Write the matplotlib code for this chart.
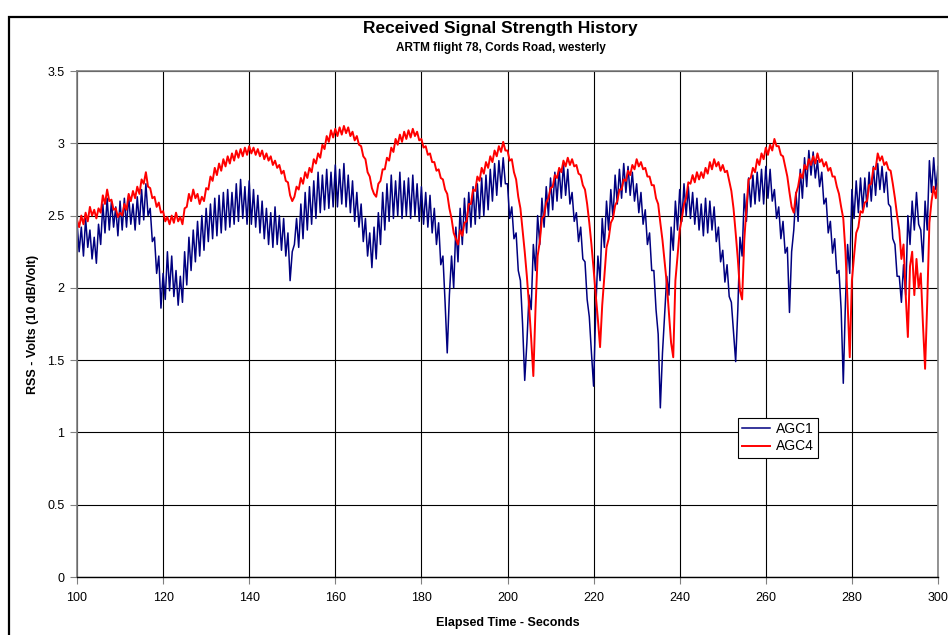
import numpy as np
import matplotlib.pyplot as plt
from matplotlib.patches import Rectangle

plt.rcParams['font.family'] = ['Liberation Sans', 'DejaVu Sans']

# sample times, half a second apart
t_start = 100.0
t_step = 0.5

# AGC1 received signal (volts), every 0.5 s
agc1 = [
    2.45, 2.25, 2.42, 2.22, 2.48, 2.28, 2.40, 2.20, 2.35, 2.17, 2.44, 2.30, 2.58, 2.38, 2.62, 2.40, 2.60, 2.42, 2.56, 2.36,
    2.60, 2.40, 2.62, 2.42, 2.64, 2.44, 2.58, 2.40, 2.63, 2.44, 2.68, 2.47, 2.72, 2.50, 2.55, 2.32, 2.35, 2.10, 2.22, 1.86,
    2.10, 1.92, 2.25, 1.98, 2.22, 1.94, 2.12, 1.88, 2.08, 1.90, 2.25, 2.02, 2.35, 2.12, 2.40, 2.18, 2.46, 2.22, 2.50, 2.26,
    2.55, 2.32, 2.58, 2.34, 2.62, 2.36, 2.64, 2.38, 2.66, 2.40, 2.68, 2.42, 2.66, 2.44, 2.72, 2.46, 2.75, 2.48, 2.70, 2.44,
    2.74, 2.44, 2.68, 2.42, 2.64, 2.38, 2.60, 2.34, 2.55, 2.30, 2.52, 2.28, 2.56, 2.30, 2.50, 2.26, 2.48, 2.22, 2.38, 2.05,
    2.25, 2.30, 2.48, 2.28, 2.58, 2.34, 2.66, 2.40, 2.70, 2.44, 2.74, 2.48, 2.80, 2.52, 2.78, 2.54, 2.82, 2.55, 2.80, 2.56,
    2.85, 2.56, 2.82, 2.58, 2.86, 2.56, 2.78, 2.52, 2.74, 2.46, 2.66, 2.42, 2.58, 2.32, 2.48, 2.22, 2.38, 2.14, 2.42, 2.20,
    2.52, 2.30, 2.66, 2.40, 2.72, 2.46, 2.78, 2.48, 2.74, 2.50, 2.80, 2.48, 2.74, 2.50, 2.76, 2.48, 2.78, 2.50, 2.72, 2.46,
    2.70, 2.44, 2.66, 2.42, 2.64, 2.38, 2.55, 2.30, 2.45, 2.16, 2.22, 1.90, 1.55, 1.95, 2.22, 2.00, 2.42, 2.18, 2.55, 2.30,
    2.62, 2.38, 2.66, 2.42, 2.70, 2.44, 2.72, 2.48, 2.76, 2.50, 2.78, 2.54, 2.82, 2.60, 2.86, 2.64, 2.88, 2.70, 2.90, 2.72,
    2.72, 2.48, 2.56, 2.34, 2.38, 2.12, 2.05, 1.75, 1.36, 1.62, 1.95, 1.85, 2.30, 2.12, 2.50, 2.30, 2.62, 2.42, 2.70, 2.50,
    2.76, 2.54, 2.80, 2.60, 2.82, 2.62, 2.86, 2.64, 2.82, 2.58, 2.66, 2.46, 2.52, 2.32, 2.42, 2.20, 2.18, 1.92, 1.80, 1.55,
    1.32, 1.85, 2.22, 2.05, 2.48, 2.28, 2.60, 2.40, 2.68, 2.48, 2.78, 2.58, 2.82, 2.62, 2.86, 2.66, 2.84, 2.64, 2.80, 2.60,
    2.72, 2.52, 2.66, 2.44, 2.54, 2.30, 2.38, 2.12, 2.12, 1.85, 1.68, 1.17, 1.55, 1.82, 2.08, 1.95, 2.42, 2.26, 2.60, 2.40,
    2.68, 2.46, 2.72, 2.50, 2.70, 2.48, 2.66, 2.44, 2.62, 2.40, 2.58, 2.36, 2.62, 2.38, 2.60, 2.40, 2.56, 2.32, 2.42, 2.18,
    2.26, 2.04, 2.16, 1.94, 1.90, 1.70, 1.49, 1.85, 2.35, 2.22, 2.65, 2.46, 2.76, 2.56, 2.78, 2.58, 2.80, 2.60, 2.82, 2.58,
    2.84, 2.62, 2.82, 2.60, 2.68, 2.48, 2.56, 2.34, 2.46, 2.24, 2.28, 1.83, 2.25, 2.40, 2.66, 2.46, 2.82, 2.62, 2.90, 2.70,
    2.95, 2.78, 2.94, 2.76, 2.88, 2.70, 2.80, 2.58, 2.62, 2.38, 2.46, 2.24, 2.34, 2.10, 2.12, 1.85, 1.34, 1.90, 2.30, 2.10,
    2.68, 2.48, 2.74, 2.52, 2.76, 2.54, 2.76, 2.56, 2.80, 2.60, 2.84, 2.64, 2.86, 2.68, 2.84, 2.66, 2.80, 2.58, 2.56, 2.34,
    2.30, 2.08, 2.08, 1.90, 2.16, 1.95, 2.50, 2.30, 2.60, 2.40, 2.66, 2.44, 2.40, 2.18, 2.60, 2.40, 2.88, 2.66, 2.90, 2.68,
    2.84,
]

# AGC4 received signal (volts), every 0.5 s
agc4 = [
    2.47, 2.42, 2.50, 2.44, 2.52, 2.46, 2.56, 2.50, 2.54, 2.48, 2.55, 2.52, 2.64, 2.58, 2.68, 2.60, 2.61, 2.54, 2.55, 2.49,
    2.52, 2.50, 2.58, 2.54, 2.65, 2.60, 2.67, 2.62, 2.70, 2.65, 2.75, 2.72, 2.80, 2.70, 2.69, 2.62, 2.63, 2.56, 2.59, 2.52,
    2.53, 2.46, 2.49, 2.44, 2.50, 2.45, 2.52, 2.46, 2.49, 2.44, 2.55, 2.56, 2.65, 2.60, 2.68, 2.62, 2.65, 2.58, 2.63, 2.60,
    2.69, 2.68, 2.77, 2.74, 2.83, 2.78, 2.86, 2.81, 2.89, 2.84, 2.91, 2.86, 2.93, 2.88, 2.95, 2.90, 2.96, 2.91, 2.97, 2.92,
    2.98, 2.93, 2.97, 2.92, 2.96, 2.91, 2.95, 2.89, 2.93, 2.88, 2.91, 2.85, 2.88, 2.83, 2.85, 2.79, 2.81, 2.74, 2.73, 2.64,
    2.60, 2.63, 2.70, 2.68, 2.76, 2.72, 2.80, 2.76, 2.83, 2.80, 2.89, 2.86, 2.93, 2.90, 2.99, 2.96, 3.05, 3.01, 3.09, 3.04,
    3.10, 3.05, 3.11, 3.06, 3.12, 3.07, 3.11, 3.05, 3.08, 3.02, 3.05, 2.99, 2.98, 2.91, 2.89, 2.80, 2.77, 2.69, 2.65, 2.63,
    2.72, 2.74, 2.82, 2.82, 2.90, 2.88, 2.97, 2.94, 3.03, 2.99, 3.06, 3.01, 3.08, 3.03, 3.09, 3.04, 3.10, 3.05, 3.08, 3.02,
    3.03, 2.97, 2.98, 2.92, 2.93, 2.87, 2.87, 2.81, 2.82, 2.76, 2.75, 2.68, 2.65, 2.55, 2.48, 2.38, 2.34, 2.30, 2.40, 2.36,
    2.45, 2.46, 2.58, 2.58, 2.68, 2.67, 2.77, 2.74, 2.83, 2.79, 2.87, 2.83, 2.91, 2.87, 2.95, 2.91, 2.98, 2.94, 3.01, 2.95,
    2.95, 2.88, 2.89, 2.80, 2.75, 2.63, 2.55, 2.40, 2.25, 2.08, 1.88, 1.65, 1.39, 1.85, 2.22, 2.32, 2.48, 2.50, 2.59, 2.62,
    2.69, 2.70, 2.78, 2.76, 2.83, 2.80, 2.88, 2.84, 2.90, 2.85, 2.89, 2.84, 2.85, 2.79, 2.78, 2.71, 2.68, 2.58, 2.45, 2.30,
    2.13, 1.95, 1.78, 1.59, 1.88, 2.08, 2.28, 2.34, 2.45, 2.48, 2.57, 2.60, 2.68, 2.68, 2.75, 2.74, 2.81, 2.78, 2.85, 2.82,
    2.89, 2.84, 2.87, 2.82, 2.83, 2.77, 2.77, 2.71, 2.71, 2.62, 2.58, 2.45, 2.33, 2.18, 2.03, 1.82, 1.62, 1.52, 2.05, 2.22,
    2.40, 2.48, 2.58, 2.62, 2.73, 2.72, 2.78, 2.73, 2.80, 2.75, 2.80, 2.76, 2.83, 2.79, 2.87, 2.82, 2.89, 2.84, 2.87, 2.81,
    2.85, 2.80, 2.81, 2.74, 2.67, 2.55, 2.38, 2.20, 1.98, 1.92, 2.33, 2.55, 2.75, 2.76, 2.83, 2.80, 2.89, 2.85, 2.93, 2.89,
    2.97, 2.92, 2.99, 2.95, 3.03, 2.98, 2.98, 2.92, 2.91, 2.84, 2.77, 2.66, 2.56, 2.52, 2.65, 2.70, 2.79, 2.76, 2.85, 2.82,
    2.89, 2.85, 2.91, 2.86, 2.93, 2.87, 2.89, 2.84, 2.87, 2.81, 2.83, 2.77, 2.77, 2.70, 2.65, 2.56, 2.48, 2.25, 1.90, 1.52,
    2.05, 2.22, 2.38, 2.42, 2.53, 2.52, 2.59, 2.60, 2.71, 2.72, 2.83, 2.82, 2.93, 2.88, 2.91, 2.85, 2.87, 2.82, 2.81, 2.72,
    2.62, 2.50, 2.40, 2.20, 2.30, 1.95, 1.66, 2.15, 2.25, 1.95, 2.20, 2.00, 2.10, 1.75, 1.44, 1.90, 2.45, 2.60, 2.70, 2.62,
    2.72,
]

x_ticks = [100, 120, 140, 160, 180, 200, 220, 240, 260, 280, 300]
y_ticks = [0, 0.5, 1, 1.5, 2, 2.5, 3, 3.5]
y_tick_labels = ['0', '0.5', '1', '1.5', '2', '2.5', '3', '3.5']

t1 = t_start + t_step * np.arange(len(agc1))
t4 = t_start + t_step * np.arange(len(agc4))

fig = plt.figure(figsize=(9.48, 6.35), dpi=100)
ax = fig.add_axes([77 / 948, 58 / 635, 861 / 948, 506 / 635])

ax.plot(t1, agc1, color='#000080', lw=1.1, label='AGC1')
ax.plot(t4, agc4, color='#ff0000', lw=1.4, label='AGC4')

ax.set_xlim(100, 300)
ax.set_ylim(0, 3.5)
ax.set_xticks(x_ticks)
ax.set_yticks(y_ticks)
ax.set_yticklabels(y_tick_labels)
ax.grid(True, color='black', lw=0.8)
ax.set_axisbelow(True)
ax.tick_params(direction='out', length=5, width=0.8, color='#808080',
               labelsize=9)
ax.tick_params(axis='x', pad=6)
ax.tick_params(axis='y', pad=4)

for side in ['left', 'top', 'right']:
    ax.spines[side].set_color('#808080')
    ax.spines[side].set_linewidth(1.2)
ax.spines['bottom'].set_color('black')
ax.spines['bottom'].set_linewidth(1.0)

ax.set_xlabel('Elapsed Time - Seconds', fontsize=9, fontweight='bold')
ax.xaxis.set_label_coords(0.5, -0.08)
ax.set_ylabel('RSS - Volts (10 dB/Volt)', fontsize=9, fontweight='bold')
ax.yaxis.set_label_coords(-0.044, 0.5)

leg = ax.legend(loc='lower left', bbox_to_anchor=(0.768, 0.236), fontsize=10,
                fancybox=False, edgecolor='black', framealpha=1,
                handlelength=2.0, handletextpad=0.4, borderpad=0.3,
                labelspacing=0.25, borderaxespad=0)
leg.get_frame().set_linewidth(0.8)

fig.text(0.528, 0.955, 'Received Signal Strength History', ha='center',
         va='center', fontsize=12.5, fontweight='bold')
fig.text(0.528, 0.925, 'ARTM flight 78, Cords Road, westerly', ha='center',
         va='center', fontsize=8.5, fontweight='bold')

# chart area border (only left and top visible in the crop)
fig.patches.append(Rectangle((8.5 / 948, -0.1), 1.2, 1.1 - 17 / 635,
                             transform=fig.transFigure, fill=False,
                             edgecolor='black', lw=1.6))

fig.savefig('out.png', dpi=100)
